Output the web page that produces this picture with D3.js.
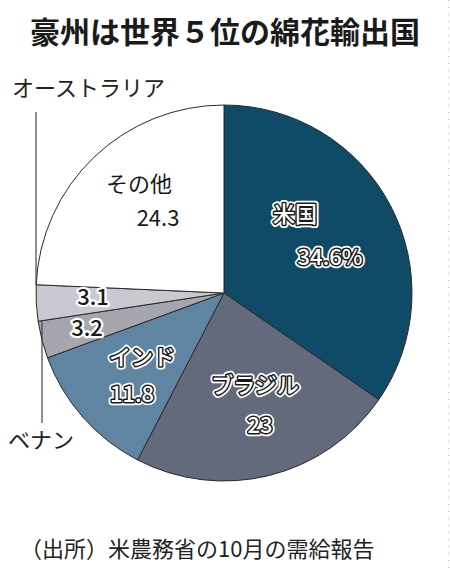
<!DOCTYPE html>
<html><head><meta charset="utf-8">
<script src="https://cdn.jsdelivr.net/npm/d3@7"></script>
<style>
html,body{margin:0;padding:0;background:#fff;}
svg{display:block;font-family:"Noto Sans CJK JP","Noto Sans",sans-serif;}
</style></head>
<body>
<svg id="chart" width="450" height="568"></svg>
<script>
const categories = ["米国","ブラジル","インド","ベナン","オーストラリア","その他"];
const values = [34.6, 23, 11.8, 3.2, 3.1, 24.3];
const valueLabels = ["34.6%","23","11.8","3.2","3.1","24.3"];
const colors = ["#0f4a67","#626a7c","#6085a3","#a6a6ae","#c9c9d1","#ffffff"];

const svg = d3.select("#chart");
const cx = 224, cy = 293, R = 188;

// dotted right border
svg.append("line").attr("x1",448.5).attr("x2",448.5).attr("y1",0).attr("y2",568)
  .attr("stroke","#bbb").attr("stroke-width",1).attr("stroke-dasharray","1,6");

svg.append("text").attr("x",225).attr("y",43).attr("text-anchor","middle")
  .attr("font-size",30).attr("font-weight",700).attr("fill","#1a1a1a")
  .text("豪州は世界５位の綿花輸出国");

const data = categories.map((c,i)=>({cat:c,value:values[i],label:valueLabels[i],color:colors[i]}));
const pie = d3.pie().sort(null).value(d=>d.value);
const arc = d3.arc().innerRadius(0).outerRadius(R);
const g = svg.append("g").attr("transform",`translate(${cx},${cy})`);
g.selectAll("path").data(pie(data)).join("path")
  .attr("d",arc).attr("fill",d=>d.data.color)
  .attr("stroke","#2a2a2a").attr("stroke-width",1).attr("stroke-linejoin","round");

// leader lines
const lines = [[36,112,36,285],[42,320,42,423]];
svg.selectAll("line.lead").data(lines).join("line").attr("class","lead")
  .attr("x1",d=>d[0]).attr("y1",d=>d[1]).attr("x2",d=>d[2]).attr("y2",d=>d[3])
  .attr("stroke","#444").attr("stroke-width",1.2);

// outer labels
svg.append("text").attr("x",12).attr("y",96).attr("font-size",22).attr("fill","#222").text("オーストラリア");
svg.append("text").attr("x",8).attr("y",448).attr("font-size",22).attr("fill","#222").text("ベナン");

// inner labels: [text, x, y, style]
const inner = [
  ["米国",295,222,"w"],["34.6%",330,265,"w"],
  ["ブラジル",255,393,"w"],["23",260,433,"w"],
  ["インド",142,365,"w"],["11.8",132,402,"w"],
  ["3.2",87,336,"b"],["3.1",93,305,"b"],
  ["その他",139,192,"p"],["24.3",158,226,"p"]
];
// white outer halo for outlined labels
svg.selectAll("text.halo").data(inner.filter(d=>d[3]!=="p")).join("text").attr("class","halo")
  .attr("x",d=>d[1]).attr("y",d=>d[2]).attr("text-anchor","middle")
  .attr("font-size",22).attr("font-weight",500)
  .attr("fill","#fff").attr("stroke","#fff")
  .attr("stroke-width",d=>d[3]==="w"?6.5:4.5).attr("stroke-linejoin","round")
  .text(d=>d[0]);
svg.selectAll("text.in").data(inner).join("text").attr("class","in")
  .attr("x",d=>d[1]).attr("y",d=>d[2]).attr("text-anchor","middle")
  .attr("font-size",22)
  .attr("font-weight",d=>d[3]==="p"?400:500)
  .attr("fill",d=>d[3]==="w"?"#fff":"#1a1a1a")
  .attr("stroke",d=>d[3]==="w"?"#1a1a1a":"none")
  .attr("stroke-width",3)
  .attr("stroke-linejoin","round")
  .style("paint-order","stroke")
  .text(d=>d[0]);

svg.append("text").attr("x",20).attr("y",557).attr("font-size",22).attr("fill","#222")
  .text("（出所）米農務省の10月の需給報告");
</script>
</body></html>
